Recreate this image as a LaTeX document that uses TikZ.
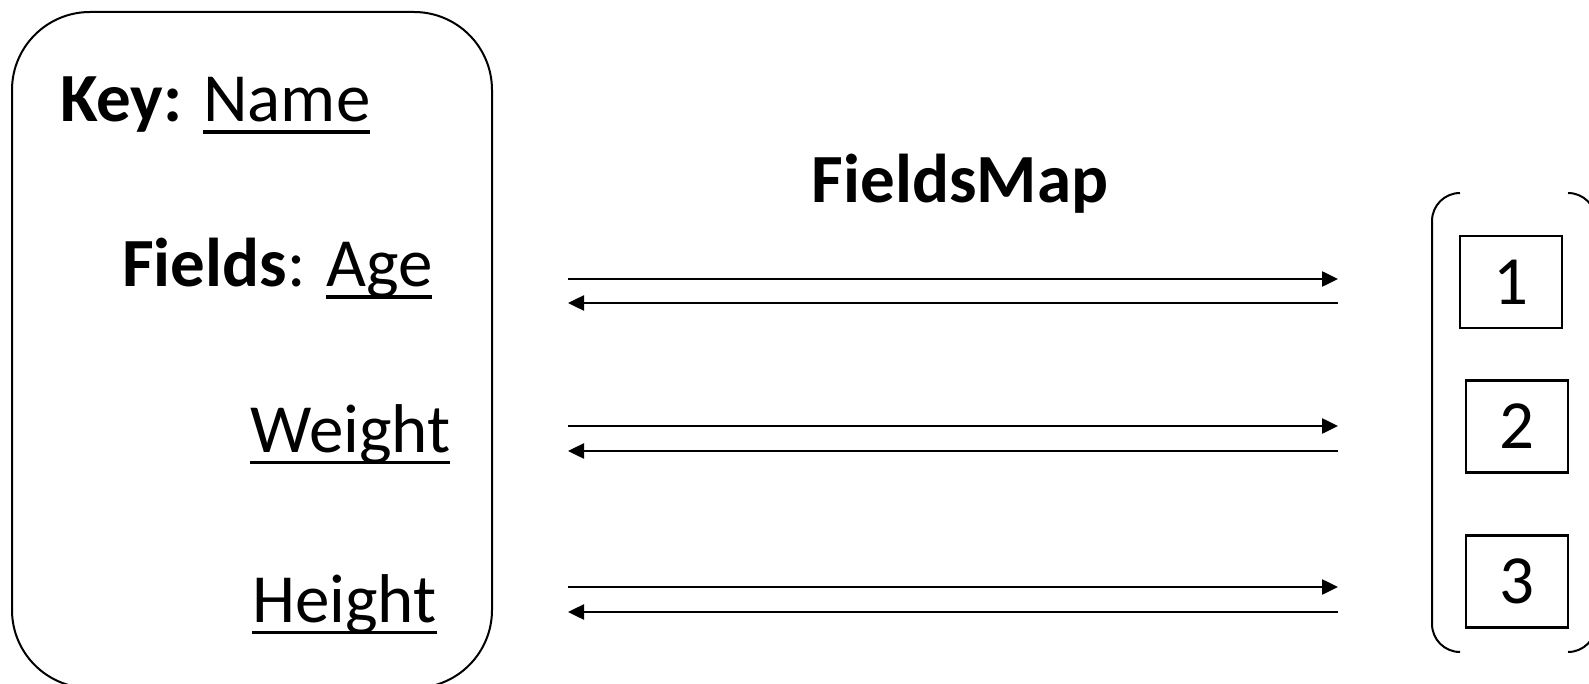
\documentclass[tikz,border=0pt]{standalone}
\usepackage{fontspec}
\setmainfont{Carlito}
\usetikzlibrary{arrows.meta}
\newcommand\myul[1]{\setbox0=\hbox{#1}\rlap{\rule[-12pt]{\wd0}{3.5pt}}\box0}
\begin{document}
\begin{tikzpicture}[x=1pt,y=-1pt,
  txt/.style={inner sep=0pt, anchor=base west, font=\fontsize{69}{82}\selectfont},
  title/.style={inner sep=0pt, anchor=base, font=\fontsize{69}{82}\selectfont\bfseries},
  numbox/.style={draw, line width=2.5pt, minimum width=102pt, minimum height=92pt, inner sep=0pt, font=\fontsize{69}{82}\selectfont},
  frame/.style={line width=2pt},
  fwd/.style={line width=2.5pt, -{Triangle[length=16pt,width=15pt]}}]
\useasboundingbox (0,0) rectangle (1589,684);
% left rounded box
\draw[frame, rounded corners=78pt] (12,12) rectangle (492,688);
% texts
\node[txt] (key) at (60,122) {\textbf{Key:} \myul{Name}};
\node[txt] (fields) at (122,287) {\textbf{Fields}: \myul{Age}};
\node[txt] (weight) at (250,452) {\myul{Weight}};
\node[txt] (height) at (252,622) {\myul{Height}};
\node[title] (fm) at (960,203) {FieldsMap};
% bracket
\draw[frame, rounded corners=28pt] (1460,193) -- (1432,193) -- (1432,652) -- (1460,652);
\draw[frame, rounded corners=28pt] (1568,193) -- (1596,193) -- (1596,652) -- (1568,652);
% number boxes
\node[numbox] (n1) at (1511,282) {1};
\node[numbox] (n2) at (1517,426.5) {2};
\node[numbox] (n3) at (1517,581.5) {3};
% arrows
\coordinate (r1s) at (568,279); \coordinate (r1e) at (1338,279);
\coordinate (l1s) at (1338,303); \coordinate (l1e) at (568,303);
\coordinate (r2s) at (568,426); \coordinate (r2e) at (1338,426);
\coordinate (l2s) at (1338,451); \coordinate (l2e) at (568,451);
\coordinate (r3s) at (568,587); \coordinate (r3e) at (1338,587);
\coordinate (l3s) at (1338,612); \coordinate (l3e) at (568,612);
\draw[fwd] (r1s) -- (r1e);
\draw[fwd] (l1s) -- (l1e);
\draw[fwd] (r2s) -- (r2e);
\draw[fwd] (l2s) -- (l2e);
\draw[fwd] (r3s) -- (r3e);
\draw[fwd] (l3s) -- (l3e);
\end{tikzpicture}
\end{document}
